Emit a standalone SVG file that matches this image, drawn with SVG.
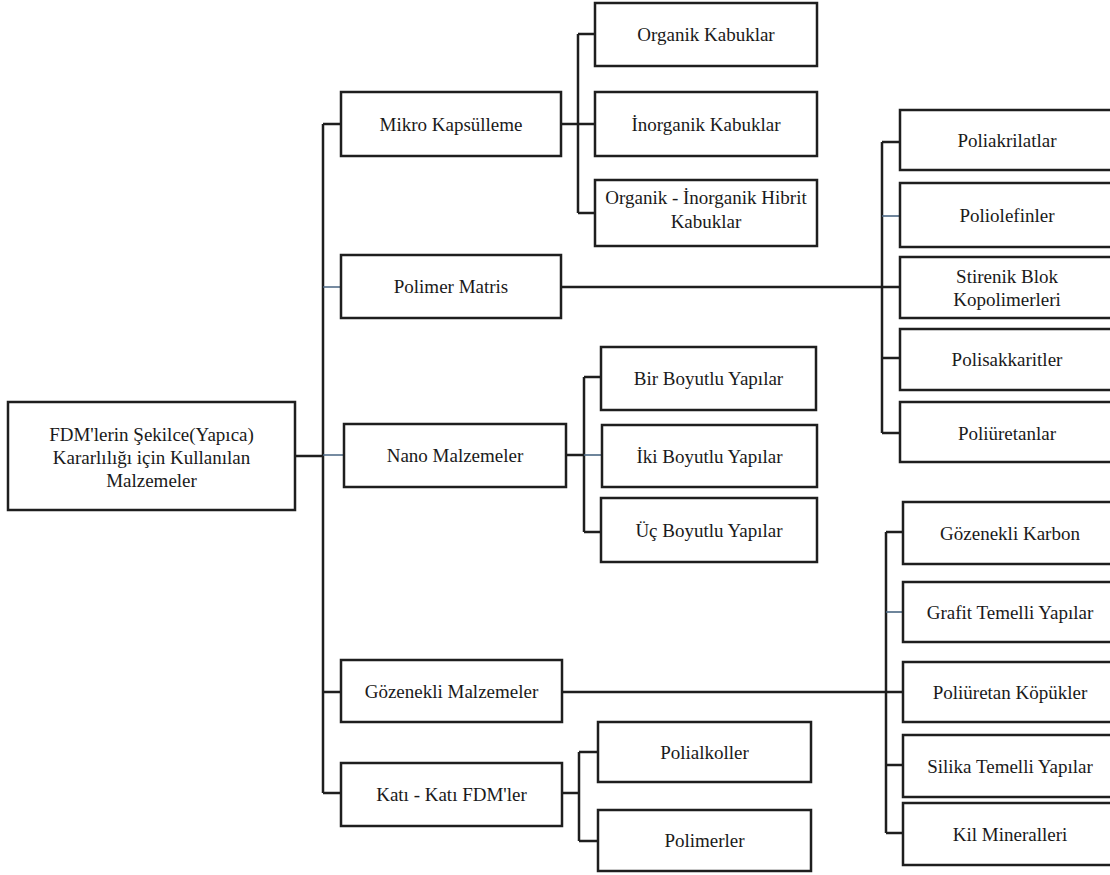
<svg xmlns="http://www.w3.org/2000/svg" width="1110" height="875" viewBox="0 0 1110 875">
<style>
rect.box{fill:#fff;stroke:#1e1e1e;stroke-width:2.5}
text{font-family:'Liberation Serif','DejaVu Serif',serif;font-size:19px;fill:#1a1a1a;text-anchor:middle}
.ln{fill:none;stroke:#1e1e1e;stroke-width:2.5}
.lb{fill:none;stroke:#4a6682;stroke-width:1.6}
</style>
<rect width="1110" height="875" fill="#fff"/>
<g id="connectors">
<path class="ln" d="M295 456H323M323 124V793M323 124H341M323 692H341M323 793H341"/>
<path class="lb" d="M323 287H341M323 455H344"/>
<path class="ln" d="M561 124H578M578 34V213M578 34H595M578 124H595M578 213H595"/>
<path class="ln" d="M561 287H882M882 142V433M882 142H900M882 287H900M882 358H900M882 433H900"/>
<path class="lb" d="M882 216H900"/>
<path class="ln" d="M566 455H584M584 377V532M584 377H601M584 532H601"/>
<path class="lb" d="M584 455H602"/>
<path class="ln" d="M562 692H886M886 532V833M886 532H903M886 692H903M886 765H903M886 833H903"/>
<path class="lb" d="M886 612H903"/>
<path class="ln" d="M562 793H579M579 752V841M579 752H598M579 841H598"/>
</g>
<g font-family="Liberation Serif, DejaVu Serif, serif">
<g id="root"><rect class="box" x="8" y="402" width="287" height="108"/><text x="151.5" y="441">FDM'lerin Şekilce(Yapıca)</text><text x="151.5" y="464">Kararlılığı için Kullanılan</text><text x="151.5" y="487">Malzemeler</text></g>
<g id="mikro"><rect class="box" x="341" y="92" width="220" height="64"/><text x="451" y="131">Mikro Kapsülleme</text></g>
<g id="polimer"><rect class="box" x="341" y="255" width="220" height="63"/><text x="451" y="293">Polimer Matris</text></g>
<g id="nano"><rect class="box" x="344" y="424" width="222" height="63"/><text x="455" y="462">Nano Malzemeler</text></g>
<g id="gozenekli"><rect class="box" x="341" y="660" width="221" height="62"/><text x="451.5" y="698">Gözenekli Malzemeler</text></g>
<g id="kati"><rect class="box" x="341" y="763" width="221" height="63"/><text x="451.5" y="801">Katı - Katı FDM'ler</text></g>
<g id="organik"><rect class="box" x="595" y="3" width="222" height="63"/><text x="706" y="41">Organik Kabuklar</text></g>
<g id="inorganik"><rect class="box" x="595" y="92" width="222" height="64"/><text x="706" y="131">İnorganik Kabuklar</text></g>
<g id="hibrit"><rect class="box" x="595" y="180" width="222" height="66"/><text x="706" y="204">Organik - İnorganik Hibrit</text><text x="706" y="228">Kabuklar</text></g>
<g id="poliakrilatlar"><rect class="box" x="900" y="110" width="215" height="60"/><text x="1007" y="147">Poliakrilatlar</text></g>
<g id="poliolefinler"><rect class="box" x="900" y="183" width="215" height="64"/><text x="1007" y="222">Poliolefinler</text></g>
<g id="stirenik"><rect class="box" x="900" y="257" width="215" height="61"/><text x="1007" y="283">Stirenik Blok</text><text x="1007" y="306">Kopolimerleri</text></g>
<g id="polisakkaritler"><rect class="box" x="900" y="329" width="215" height="61"/><text x="1007" y="366">Polisakkaritler</text></g>
<g id="poliuretanlar"><rect class="box" x="900" y="402" width="215" height="60"/><text x="1007" y="440">Poliüretanlar</text></g>
<g id="bir"><rect class="box" x="601" y="347" width="215" height="63"/><text x="708.5" y="385">Bir Boyutlu Yapılar</text></g>
<g id="iki"><rect class="box" x="602" y="425" width="215" height="62"/><text x="709.5" y="463">İki Boyutlu Yapılar</text></g>
<g id="uc"><rect class="box" x="601" y="498" width="216" height="64"/><text x="709" y="537">Üç Boyutlu Yapılar</text></g>
<g id="karbon"><rect class="box" x="903" y="502" width="212" height="62"/><text x="1010" y="540">Gözenekli Karbon</text></g>
<g id="grafit"><rect class="box" x="903" y="582" width="212" height="60"/><text x="1010" y="619">Grafit Temelli Yapılar</text></g>
<g id="kopukler"><rect class="box" x="903" y="662" width="212" height="60"/><text x="1010" y="699">Poliüretan Köpükler</text></g>
<g id="silika"><rect class="box" x="903" y="735" width="212" height="62"/><text x="1010" y="773">Silika Temelli Yapılar</text></g>
<g id="kil"><rect class="box" x="903" y="803" width="212" height="62"/><text x="1010" y="841">Kil Mineralleri</text></g>
<g id="polialkoller"><rect class="box" x="598" y="722" width="213" height="60"/><text x="704.5" y="759">Polialkoller</text></g>
<g id="polimerler"><rect class="box" x="598" y="810" width="213" height="61"/><text x="704.5" y="847">Polimerler</text></g>
</g>
</svg>
